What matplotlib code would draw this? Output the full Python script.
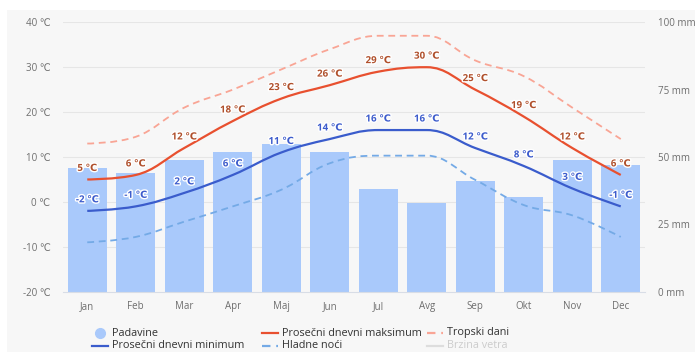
import matplotlib.pyplot as plt
import numpy as np
from matplotlib.path import Path
from matplotlib.patches import PathPatch, Rectangle
from matplotlib.lines import Line2D
import matplotlib.patheffects as pe

plt.rcParams['font.family'] = ['Open Sans', 'DejaVu Sans']

months = ['Jan', 'Feb', 'Mar', 'Apr', 'Maj', 'Jun', 'Jul', 'Avg', 'Sep', 'Okt', 'Nov', 'Dec']
padavine = [46, 44, 49, 52, 55, 52, 38, 33, 41, 35, 49, 47]          # mm
temp_max = [5, 6, 12, 18, 23, 26, 29, 30, 25, 19, 12, 6]             # °C
temp_min = [-2, -1, 2, 6, 11, 14, 16, 16, 12, 8, 3, -1]              # °C
tropski = [13, 14.5, 21, 25, 29.5, 34, 37, 37, 31.5, 28, 21, 14]     # °C
hladne = [-9, -7.8, -4.4, -1, 2.7, 8.6, 10.3, 10.3, 4.9, -0.7, -3, -7.8]  # °C

temp_ticks = [-20, -10, 0, 10, 20, 30, 40]
mm_ticks = [0, 25, 50, 75, 100]

c_bar = '#a9c9fb'
c_max = '#e8502f'
c_min = '#3a5ccc'
c_trop = '#f9a595'
c_cold = '#74aae6'
c_grid = '#e6e6e6'
c_tick = '#6e6e6e'


def spline_path(xs, ys, smoothing=1.5):
    # smooth curve through the points, same control point rule as highcharts splines
    denom = smoothing + 1
    n = len(xs)
    lc = [None] * n
    rc = [None] * n
    for i in range(1, n - 1):
        px, py = xs[i], ys[i]
        lx, ly = xs[i - 1], ys[i - 1]
        nx, ny = xs[i + 1], ys[i + 1]
        lcx = (smoothing * px + lx) / denom
        lcy = (smoothing * py + ly) / denom
        rcx = (smoothing * px + nx) / denom
        rcy = (smoothing * py + ny) / denom
        corr = 0
        if rcx != lcx:
            corr = (rcy - lcy) * (rcx - px) / (rcx - lcx) + py - rcy
        lcy += corr
        rcy += corr
        if lcy > ly and lcy > py:
            lcy = max(ly, py)
            rcy = 2 * py - lcy
        elif lcy < ly and lcy < py:
            lcy = min(ly, py)
            rcy = 2 * py - lcy
        if rcy > ny and rcy > py:
            rcy = max(ny, py)
            lcy = 2 * py - rcy
        elif rcy < ny and rcy < py:
            rcy = min(ny, py)
            lcy = 2 * py - rcy
        lc[i] = (lcx, lcy)
        rc[i] = (rcx, rcy)
    verts = [(xs[0], ys[0])]
    codes = [Path.MOVETO]
    for i in range(1, n):
        c1 = rc[i - 1] if rc[i - 1] is not None else (xs[i - 1], ys[i - 1])
        c2 = lc[i] if lc[i] is not None else (xs[i], ys[i])
        verts += [c1, c2, (xs[i], ys[i])]
        codes += [Path.CURVE4] * 3
    return Path(verts, codes)


fig = plt.figure(figsize=(6.95, 3.52), dpi=100)
fig.patch.set_facecolor('white')
fig.patches.append(Rectangle((7 / 695, 0), 1, 1 - 10 / 352, transform=fig.transFigure,
                             facecolor='#f7f7f7', edgecolor='none', zorder=-10))

ax = fig.add_axes([63 / 695, 1 - 291.7 / 352, 582 / 695, (291.7 - 22.3) / 352])
ax.set_facecolor('none')
ax2 = ax.twinx()
ax2.set_zorder(ax.get_zorder() - 1)

x = np.arange(len(months))

# precipitation bars on the right axis
ax2.bar(x, padavine, width=0.8, color=c_bar, edgecolor='none')
ax2.set_ylim(0, 100)
ax2.set_yticks(mm_ticks)
ax2.set_yticklabels([f'{v} mm' for v in mm_ticks])

ax.set_xlim(-0.5, 11.5)
ax.set_ylim(-20, 40)
ax.set_yticks(temp_ticks)
ax.set_yticklabels([f'{v} \u2103' for v in temp_ticks])
ax.set_xticks(x)
ax.set_xticklabels(months)

# grid lines drawn behind bars
for t in temp_ticks[1:]:
    ax2.axhline((t + 20) / 60 * 100, color=c_grid, lw=0.8, zorder=0)

series = [
    (tropski, c_trop, 1.3, (3.8, 2.6)),
    (hladne, c_cold, 1.3, (3.8, 2.6)),
    (temp_max, c_max, 1.6, None),
    (temp_min, c_min, 1.6, None),
]
for ys, col, lw, dash in series:
    patch = PathPatch(spline_path(list(x), ys), facecolor='none', edgecolor=col, lw=lw,
                      capstyle='butt', zorder=3)
    if dash:
        patch.set_linestyle((0, dash))
    ax.add_patch(patch)

halo = [pe.withStroke(linewidth=2, foreground='white')]
for ys, col in [(temp_max, '#b0502c'), (temp_min, '#3d5ccc')]:
    for xi, v in zip(x, ys):
        ax.annotate(f'{v} \u2103', (xi, v), xytext=(0, 4), textcoords='offset points',
                    ha='center', va='bottom', fontsize=7, fontweight='bold', color=col,
                    path_effects=halo, zorder=5)

for a in (ax, ax2):
    for s in a.spines.values():
        s.set_visible(False)
    a.tick_params(length=0, labelsize=7, colors=c_tick)
ax.spines['bottom'].set_visible(True)
ax.spines['bottom'].set_color('#d8dde6')
ax.spines['bottom'].set_linewidth(0.8)
ax.tick_params(axis='y', pad=9)
ax.tick_params(axis='x', pad=7)
ax2.tick_params(axis='y', pad=9)

# legend, two rows of three
items = [
    ('circle', c_bar, None, 'Padavine', 100, 333, '#333333'),
    ('line', c_max, None, 'Prosečni dnevni maksimum', 270, 333, '#333333'),
    ('line', c_trop, (3.8, 2.6), 'Tropski dani', 435, 333, '#333333'),
    ('line', c_min, None, 'Prosečni dnevni minimum', 100, 346, '#333333'),
    ('line', c_cold, (3.8, 2.6), 'Hladne noći', 270, 346, '#333333'),
    ('line', '#dddddd', None, 'Brzina vetra', 435, 346, '#cccccc'),
]
for kind, col, dash, label, px, py, tc in items:
    yf = 1 - py / 352
    if kind == 'circle':
        fig.add_artist(Line2D([px / 695], [yf], marker='o', markersize=7, color=col,
                              transform=fig.transFigure))
    else:
        ln = Line2D([(px - 8) / 695, (px + 8) / 695], [yf, yf], color=col, lw=1.6,
                    transform=fig.transFigure)
        if dash:
            ln.set_dashes(dash)
        fig.add_artist(ln)
    fig.text((px + 12) / 695, yf, label, fontsize=7.8, color=tc, va='center', ha='left')

fig.savefig('out.png', dpi=100)
